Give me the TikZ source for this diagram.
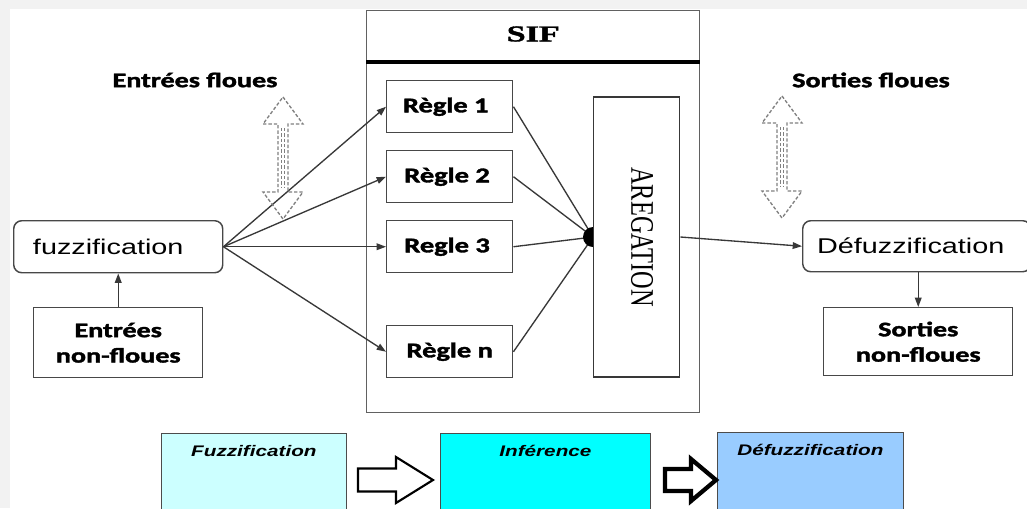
\documentclass[tikz,border=0pt]{standalone}
\usepackage{fontspec}
\usepackage{graphicx}
\usetikzlibrary{arrows.meta}
\setmainfont{Liberation Sans}
\newfontfamily\gillish{Carlito}[BoldFeatures={FakeBold=1.6}]
\newfontfamily\timesish{Liberation Serif}[BoldFeatures={FakeBold=1.4}]
% the lettering of this figure is set wide
\newcommand\widen[1]{\scalebox{1.35}[1]{#1}}
\definecolor{pale}{HTML}{CCFFFF}
\definecolor{aqua}{HTML}{00FFFF}
\definecolor{sky}{HTML}{99CCFF}

\begin{document}
\begin{tikzpicture}[x=0.75pt,y=-0.75pt,
  box/.style={draw=black!72, line width=1.1pt, fill=white, inner sep=0pt, anchor=north west},
  rbox/.style={box, rounded corners=6pt},
  lbl/.style={font={\gillish\bfseries\fontsize{15.6}{19}\selectfont}, align=center},
  rule/.style={box, minimum width=94.5pt, minimum height=39pt, lbl,
               font={\gillish\bfseries\fontsize{15.8}{19}\selectfont}},
  plain/.style={font={\fontsize{16}{18}\selectfont}},
  arr/.style={draw=black!78, line width=1pt, -{Triangle[length=7pt,width=5pt]}},
  wire/.style={draw=black!78, line width=1pt},
  pbox/.style={draw=black!70, line width=0.6pt, inner sep=0pt, anchor=north west},
  ptext/.style={font={\bfseries\itshape\fontsize{11.5}{14}\selectfont}},
  ghost/.style={draw=black!50, line width=1pt, dash pattern=on 2.5pt off 1.5pt},
  pics/fuzzy/.style={code={
    \draw[ghost] (0,-61) -- (20,-34) -- (5,-34) -- (5,34) -- (20,34) -- (0,61)
      -- (-20,34) -- (-5,34) -- (-5,-34) -- (-20,-34) -- cycle;
    \draw[ghost] (-1.5,-30) -- (-1.5,30) (1.5,-30) -- (1.5,30);}},
  pics/step arrow/.style={code={
    \draw[black, line width=#1, line join=miter, fill=white]
      (0,-11.5) -- (38,-11.5) -- (38,-23) -- (75,0) -- (38,23) -- (38,11.5) -- (0,11.5) -- cycle;}},
  pics/short arrow/.style={code={
    \draw[black, line width=#1, line join=miter, fill=white]
      (0,-11) -- (26,-11) -- (26,-21) -- (51,0) -- (26,21) -- (26,11) -- (0,11) -- cycle;}}
]
\clip (0,0) rectangle (1027,508);
\useasboundingbox (0,0) rectangle (1027,508);
% page with a faint frame
\fill[black!5] (0,0) rectangle (1027,508);
\fill[white] (10,9) rectangle (1027,508);

% ---- input side
\node[rbox, minimum width=156.75pt, minimum height=39pt, plain] (fuzz) at (13,220) {\hspace*{-15pt}\widen{fuzzification}};
\node[box, minimum width=126.75pt, minimum height=52.5pt, lbl] (enf) at (33,307) {\widen{Entrées}\\\widen{non-floues}};
\node[lbl] (ef) at (195,80) {\widen{Entrées floues}};
\draw[arr] (enf.north) -- (fuzz.south);

% ---- inference system
\node[box, draw=black!62, minimum width=249.75pt, minimum height=301.5pt] (sif) at (366,10) {};
\draw[black, line width=3pt] ([yshift=-39pt]sif.north west) -- ([yshift=-39pt]sif.north east);
\node[font={\timesish\bfseries\fontsize{17}{20}\selectfont}] (siftitle) at ([yshift=-18pt]sif.north) {\scalebox{1.5}[1]{SIF}};

\node[rule] (r1) at (386,80) {\hspace*{-6pt}\widen{Règle 1}};
\node[rule] (r2) at (386,150) {\hspace*{-4pt}\widen{Règle 2}};
\node[rule] (r3) at (386,220) {\hspace*{-4pt}\widen{Regle 3}};
\node[rule] (rn) at (386,325) {\widen{Règle n}};

\foreach \r in {r1,r2,r3,rn} \draw[arr] (fuzz.east) -- (\r.west);

\coordinate (hub) at (593,237);
\foreach \r in {r1,r2,r3,rn} \draw[wire] (\r.east) -- (hub);
\fill[black] (hub) circle[radius=7.5pt];
\node[box, draw=black!78, minimum width=64.5pt, minimum height=210pt, anchor=west,
      font={\timesish\fontsize{18.3}{20}\selectfont}] (aggr) at (hub)
      {\hspace*{8pt}\widen{\rotatebox{-90}{AREGATION}}};

% ---- output side
\node[rbox, minimum width=171pt, minimum height=38.25pt, plain] (defuzz) at (802,220) {\hspace*{-9pt}\widen{Défuzzification}};
\node[box, minimum width=141.75pt, minimum height=51pt, lbl] (snf) at (823,307) {\widen{Sorties}\\\widen{non-floues}};
\node[lbl] (sf) at (871,80) {\widen{Sorties floues}};
\draw[arr] (aggr.east) -- (defuzz.west);
\draw[arr] (snf.north |- defuzz.south) -- (snf.north);

% fuzzy values travelling in and out
\pic at (283,158) {fuzzy};
\pic at (782,157) {fuzzy};

% ---- the three stages
\node[pbox, fill=pale, minimum width=138.75pt, minimum height=60pt] (pf) at (161,433) {};
\node[pbox, fill=aqua, minimum width=157.5pt, minimum height=60pt] (pi) at (440,433) {};
\node[pbox, fill=sky, minimum width=139.5pt, minimum height=60pt] (pd) at (717,432) {};
\node[ptext] at ([yshift=-13.5pt]pf.north) {\widen{Fuzzification}};
\node[ptext] at ([yshift=-13.5pt]pi.north) {\widen{Inférence}};
\node[ptext] at ([yshift=-13.5pt]pd.north) {\widen{Défuzzification}};
\pic at (358,480) {step arrow=1.6pt};
\pic at (665,480) {short arrow=3.2pt};
\end{tikzpicture}
\end{document}
